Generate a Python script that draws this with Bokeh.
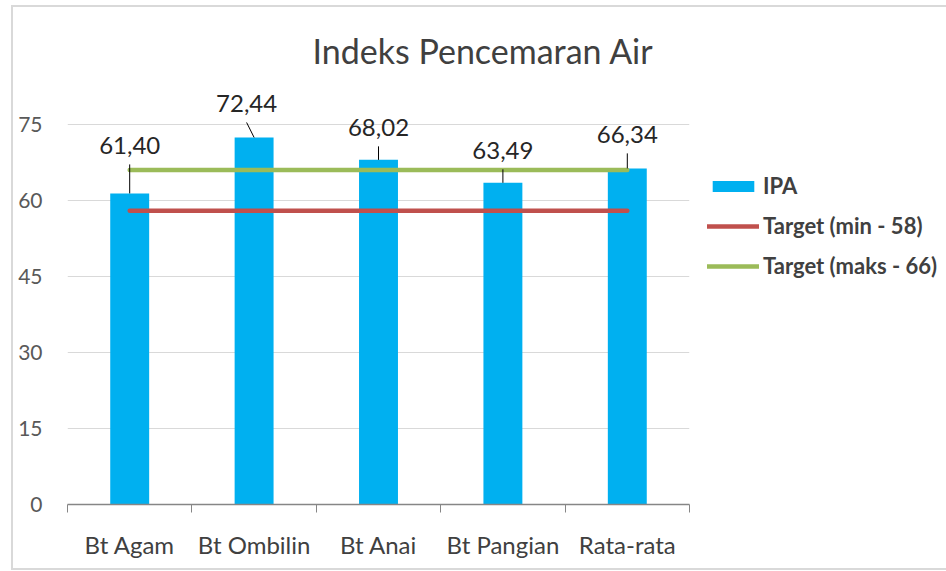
from bokeh.plotting import figure
from bokeh.models import Range1d, FixedTicker, Legend, LegendItem
from bokeh.core.properties import value
from bokeh.embed import file_html
from bokeh.resources import INLINE

# ---- data ----
categories = ["Bt Agam", "Bt Ombilin", "Bt Anai", "Bt Pangian", "Rata-rata"]
ipa = [61.40, 72.44, 68.02, 63.49, 66.34]
target_min = [58, 58, 58, 58, 58]
target_max = [66, 66, 66, 66, 66]
y_ticks = [0, 15, 30, 45, 60, 75]
series_names = ["IPA", "Target (min - 58)", "Target (maks - 66)"]
title_text = "Indeks Pencemaran Air"

# ---- layout / style ----
FONT = "Lato"
ML, MR, MT, MB = 54, 256, 77, 64
FRAME_W = 622
AXIS_H = 380            # pixel height of the 0..75 value axis
HEADROOM = 40           # room above the axis for the data labels
FRAME_H = AXIS_H + HEADROOM
Y_MAX = 75
Y_TOP = Y_MAX * FRAME_H / AXIS_H
N = len(categories)
ppu_x = FRAME_W / N
ppu_y = AXIS_H / Y_MAX
leader_px = [29, 15, 13.5, 13.5, 15]     # leader line length above bar top
label_dx = [0, -7.5, 0, 0, 0]            # label horizontal shift (px)
label_gap = 18.5                          # leader top to label centre (px)

x = [i + 0.5 for i in range(N)]
labels = [f"{v:.2f}".replace(".", ",") for v in ipa]

p = figure(frame_width=FRAME_W, frame_height=FRAME_H, output_backend="svg",
           toolbar_location=None,
           x_range=Range1d(0, N), y_range=Range1d(0, Y_TOP),
           min_border_left=ML, min_border_right=MR, min_border_top=MT,
           min_border_bottom=MB)
p.outline_line_color = None
p.background_fill_color = "white"
p.border_fill_color = "white"
p.styles = {"margin": "5px 0px 0px 11px",
            "border-top": "2px solid #d9d9d9", "border-left": "2px solid #d9d9d9",
            "border-bottom": "2px solid #d9d9d9"}

bars = p.vbar(x=x, top=ipa, width=0.313, fill_color="#00B0F0", line_color=None)
lmin = p.line(x, target_min, line_width=4.5, line_color="#C0504D", line_cap="round")
lmax = p.line(x, target_max, line_width=4.5, line_color="#9BBB59", line_cap="round")

x1 = [xi + dx / ppu_x for xi, dx in zip(x, label_dx)]
y1 = [v + l / ppu_y for v, l in zip(ipa, leader_px)]
p.segment(x0=x, y0=ipa, x1=x1, y1=y1, line_color="#000000", line_width=1)
p.text(x=x, y=ipa, text=labels, x_offset=label_dx,
       y_offset=[-(l + label_gap) for l in leader_px],
       text_align="center", text_baseline="middle",
       text_font=value(FONT), text_font_size="24px", text_color="#262626")

# title
p.title.text = title_text
p.title.align = "left"
p.title.offset = 245
p.title.standoff = 28
p.title.text_font = FONT
p.title.text_font_size = "34px"
p.title.text_font_style = "normal"
p.title.text_color = "#404040"

# y axis
p.yaxis.ticker = FixedTicker(ticks=y_ticks)
p.yaxis.axis_line_color = None
p.yaxis.major_tick_line_color = None
p.yaxis.minor_tick_line_color = None
p.yaxis.major_label_text_font = FONT
p.yaxis.major_label_text_font_size = "21px"
p.yaxis.major_label_text_color = "#595959"
p.yaxis.major_label_standoff = 19
p.ygrid.grid_line_color = "#d9d9d9"
p.ygrid.grid_line_width = 1
p.xgrid.grid_line_color = None

# x axis
p.xaxis.ticker = FixedTicker(ticks=x, minor_ticks=list(range(N + 1)))
p.xaxis.major_label_overrides = {xi: c for xi, c in zip(x, categories)}
p.xaxis.major_tick_line_color = None
p.xaxis.minor_tick_line_color = "#868686"
p.xaxis.minor_tick_in = 0
p.xaxis.minor_tick_out = 8
p.xaxis.axis_line_color = "#868686"
p.xaxis.axis_line_width = 1.5
p.xaxis.major_label_text_font = FONT
p.xaxis.major_label_text_font_size = "24px"
p.xaxis.major_label_text_color = "#404040"
p.xaxis.major_label_standoff = 17

legend = Legend(items=[LegendItem(label=series_names[0], renderers=[bars]),
                       LegendItem(label=series_names[1], renderers=[lmin]),
                       LegendItem(label=series_names[2], renderers=[lmax])],
                location="top_left", orientation="vertical")
# an empty, tiny title is used only to push the items down
legend.title = " "
legend.title_text_font_size = "1px"
legend.title_standoff = 69
legend.glyph_width = 52
legend.glyph_height = 14
legend.label_height = 22
legend.spacing = 13
legend.label_standoff = 4
legend.padding = 0
legend.margin = 18
legend.border_line_color = None
legend.background_fill_alpha = 0
legend.label_text_font = FONT
legend.label_text_font_style = "bold"
legend.label_text_font_size = "22px"
legend.label_text_color = "#404040"
p.add_layout(legend, "right")

open("out.html", "w").write(file_html(p, INLINE))
